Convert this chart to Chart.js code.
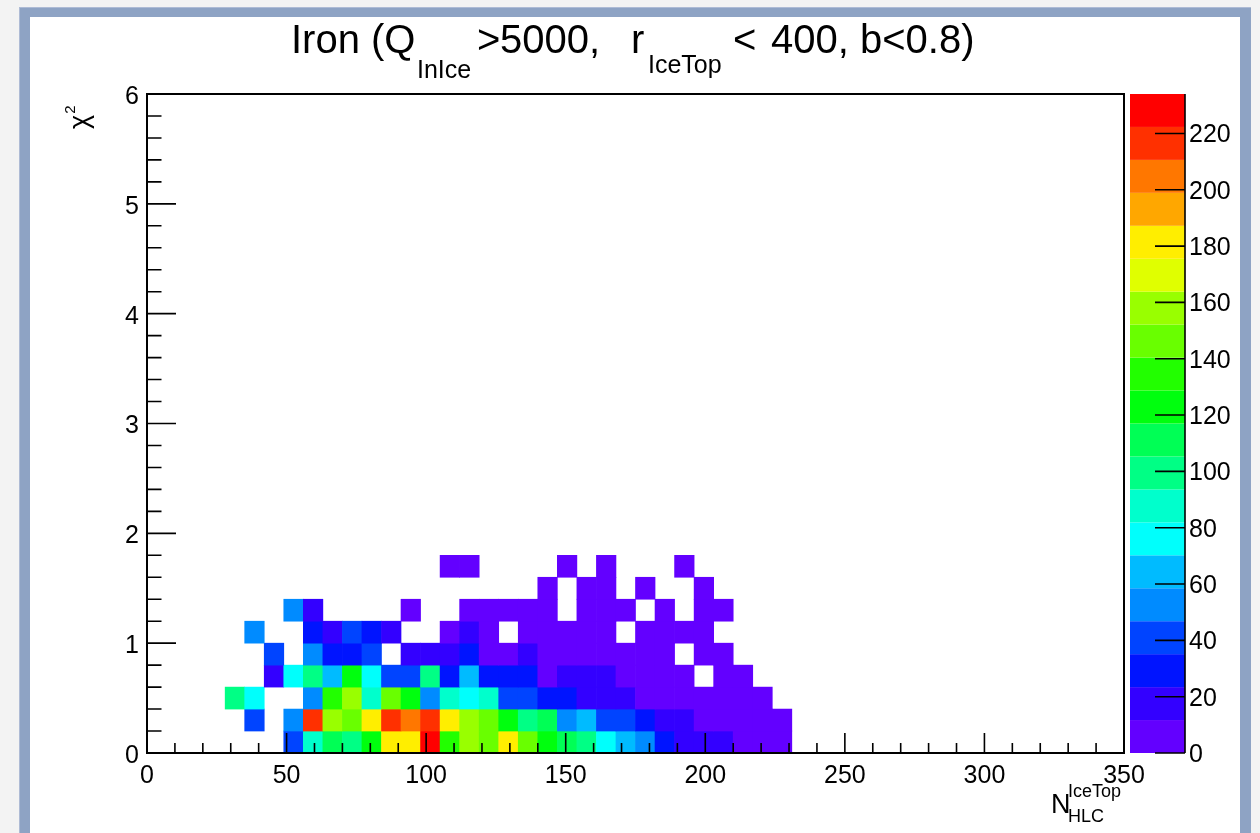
<!DOCTYPE html>
<html>
<head>
<meta charset="utf-8">
<title>Iron chi2 vs NHLC</title>
<script src="https://cdn.jsdelivr.net/npm/chart.js@4.4.1/dist/chart.umd.min.js"></script>
<style>
  html, body { margin: 0; padding: 0; background: #f3f3f3; }
  #wrap { width: 1260px; height: 833px; position: relative; }
</style>
</head>
<body>
<div id="wrap"><canvas id="c" width="1260" height="833"></canvas></div>
<script>
// ---------------- data ----------------
// Histogram binning: x = N_HLC^IceTop (0..350, bins of 7), y = chi^2 (0..6, bins of 0.2)
const xRange = [0, 350];
const yRange = [0, 6];
const xBinWidth = 7;
const yBinWidth = 0.2;
const xTicks = [0, 50, 100, 150, 200, 250, 300, 350];
const yTicks = [0, 1, 2, 3, 4, 5, 6];
const zTicks = [0, 20, 40, 60, 80, 100, 120, 140, 160, 180, 200, 220];

// Bin counts per chi^2 row (row 0 = 0-0.2, row 1 = 0.2-0.4, ...), x bins 0..33 (higher bins empty)
const row0 = [0,0,0,0,0,0,0,41,88,111,99,123,181,184,234,135,158,146,182,144,124,110,98,76,64,52,29,18,17,15,9,7,5,0];
const row1 = [0,0,0,0,0,40,0,51,216,157,147,183,218,205,215,180,160,145,125,100,112,54,63,42,39,28,20,16,10,8,6,4,3,0];
const row2 = [0,0,0,0,97,77,0,0,50,133,156,87,143,122,53,89,75,86,43,40,30,27,19,17,14,9,8,7,6,5,3,2,0,0];
const row3 = [0,0,0,0,0,0,17,78,98,65,124,74,42,38,95,30,66,28,26,25,10,15,14,13,9,8,7,5,0,4,3,0,0,0];
const row4 = [0,0,0,0,0,0,44,0,55,31,29,37,0,21,19,16,24,11,10,13,9,8,8,7,6,5,4,0,3,2,0,0,0,0];
const row5 = [0,0,0,0,0,48,0,0,26,20,36,25,14,0,0,8,13,7,0,6,5,6,4,5,0,4,3,3,2,0,0,0,0,0];
const row6 = [0,0,0,0,0,0,0,50,15,0,0,0,0,4,0,0,3,4,3,2,3,0,3,4,2,0,2,0,2,1,0,0,0,0];
const row7 = [0,0,0,0,0,0,0,0,0,0,0,0,0,0,0,0,0,0,0,0,1,0,2,1,0,1,0,0,1,0,0,0,0,0];
const row8 = [0,0,0,0,0,0,0,0,0,0,0,0,0,0,0,1,1,0,0,0,0,1,0,1,0,0,0,1,0,0,0,0,0,0];
const rows = [row0, row1, row2, row3, row4, row5, row6, row7, row8];

// ROOT "pretty" rainbow palette, 20 contour levels (violet -> red)
const palette = ['#6300ff','#3300ff','#0014ff','#0044ff','#008bff','#00bbff','#00fffc','#00ffcc','#00ff85','#00ff55',
                 '#00ff0e','#22ff00','#69ff00','#99ff00','#e0ff00','#ffee00','#ffa700','#ff7700','#ff3000','#ff0000'];
const nContours = palette.length;

// --------------- build cells ---------------
const zMax = Math.max(...rows.flat());
function colorFor(v) {
  let k = Math.floor(v / zMax * nContours);
  if (k >= nContours) k = nContours - 1;
  if (k < 0) k = 0;
  return palette[k];
}
const cells = [];
rows.forEach((r, j) => {
  r.forEach((v, i) => {
    if (v > 0) {
      cells.push({ x: xRange[0] + (i + 0.5) * xBinWidth, y: [yRange[0] + j * yBinWidth, yRange[0] + (j + 1) * yBinWidth], v: v });
    }
  });
});

Chart.defaults.font.family = "'Liberation Sans', Arial, Helvetica, sans-serif";
Chart.defaults.color = '#000';

const FONT = "'Liberation Sans', Arial, Helvetica, sans-serif";

const decor = {
  id: 'decor',
  beforeDraw(chart) {
    const c = chart.ctx;
    c.save();
    c.fillStyle = '#f3f3f3';
    c.fillRect(0, 0, chart.width, chart.height);
    c.fillStyle = '#8ea3c4';
    c.fillRect(19, 7, 1232, chart.height);
    c.fillStyle = '#aebbd5';
    c.fillRect(19, 7, 1232, 1);
    c.fillRect(19, 7, 1, chart.height);
    c.fillStyle = '#ffffff';
    c.fillRect(30, 17, 1210, chart.height);
    c.restore();
  },
  afterDatasetsDraw(chart) {
    const c = chart.ctx;
    const a = chart.chartArea;
    const xs = chart.scales.x, ys = chart.scales.y, zs = chart.scales.z;
    c.save();
    // palette box
    const cbL = a.right + 6, cbR = a.right + 61;
    for (let k = 0; k < nContours; k++) {
      const y0 = zs.getPixelForValue(k * zMax / nContours);
      const y1 = zs.getPixelForValue((k + 1) * zMax / nContours);
      c.fillStyle = palette[k];
      c.fillRect(cbL, y1, cbR - cbL, y0 - y1);
    }
    c.strokeStyle = '#000';
    c.lineWidth = 1.6;
    c.beginPath();
    c.moveTo(cbR, a.top); c.lineTo(cbR, a.bottom);
    zTicks.forEach(v => {
      const p = zs.getPixelForValue(v);
      c.moveTo(cbR - 30, p); c.lineTo(cbR, p);
    });
    c.stroke();

    // frame
    c.lineWidth = 2;
    c.strokeRect(a.left, a.top, a.right - a.left, a.bottom - a.top);

    // x ticks (major 50, minor 10)
    c.lineWidth = 1.6;
    c.beginPath();
    for (let v = xRange[0]; v <= xRange[1] + 1e-9; v += 10) {
      const p = xs.getPixelForValue(v);
      const len = (Math.round(v) % 50 === 0) ? 20 : 10;
      c.moveTo(p, a.bottom); c.lineTo(p, a.bottom - len);
    }
    // y ticks (major 1, minor 0.2)
    for (let n = 0; n <= 30; n++) {
      const v = n * 0.2;
      const p = ys.getPixelForValue(v);
      const len = (n % 5 === 0) ? 29 : 14.5;
      c.moveTo(a.left, p); c.lineTo(a.left + len, p);
    }
    c.stroke();

    // title
    c.fillStyle = '#000';
    c.textBaseline = 'alphabetic';
    c.textAlign = 'left';
    const parts = [
      { t: 'Iron (Q', s: 40, x: 291, y: 53 },
      { t: 'InIce', s: 25, x: 417, y: 78 },
      { t: '>', s: 40, x: 477, y: 53 },
      { t: '5000,', s: 40, x: 500, y: 53 },
      { t: 'r', s: 40, x: 631, y: 53 },
      { t: 'IceTop', s: 25, x: 648, y: 73 },
      { t: '<', s: 40, x: 733, y: 53 },
      { t: '400,', s: 40, x: 771, y: 53 },
      { t: 'b<0.8)', s: 40, x: 860, y: 53 }
    ];
    parts.forEach(p => { c.font = p.s + 'px ' + FONT; c.fillText(p.t, p.x, p.y); });

    // x axis title N_HLC^IceTop
    c.font = '27px ' + FONT;
    c.fillText('N', 1051, 813);
    c.font = '18px ' + FONT;
    c.fillText('IceTop', 1068, 797);
    c.fillText('HLC', 1068, 822);

    // y axis title chi^2 (rotated)
    c.save();
    c.translate(88, 129);
    c.rotate(-Math.PI / 2);
    c.font = '27px ' + FONT;
    c.fillText('\u03C7', 0, 0);
    const w = c.measureText('\u03C7').width;
    c.font = '15px ' + FONT;
    c.fillText('2', w + 1, -13);
    c.restore();

    c.restore();
  }
};

new Chart(document.getElementById('c'), {
  type: 'bar',
  data: {
    datasets: [{
      data: cells,
      backgroundColor: ctx => colorFor(ctx.raw ? ctx.raw.v : 0),
      borderWidth: 0,
      barPercentage: 1,
      categoryPercentage: 1,
      grouped: false
    }]
  },
  options: {
    responsive: false,
    animation: false,
    events: [],
    layout: { padding: { top: 94, left: 0, right: 0, bottom: 0 } },
    plugins: { legend: { display: false }, tooltip: { enabled: false }, title: { display: false } },
    scales: {
      x: {
        type: 'linear', axis: 'x', position: 'bottom', min: xRange[0], max: xRange[1], offset: false,
        grid: { display: false, drawTicks: false, offset: false }, border: { display: false },
        afterBuildTicks: s => { s.ticks = xTicks.map(v => ({ value: v })); },
        ticks: { autoSkip: false, maxRotation: 0, padding: 8, font: { size: 25 }, color: '#000' },
        afterFit: s => { s.height = 76; }
      },
      y: {
        type: 'linear', axis: 'y', position: 'left', min: yRange[0], max: yRange[1],
        grid: { display: false, drawTicks: false }, border: { display: false },
        afterBuildTicks: s => { s.ticks = yTicks.map(v => ({ value: v })); },
        ticks: { autoSkip: false, padding: 8, labelOffset: 3, font: { size: 25 }, color: '#000' },
        afterFit: s => { s.width = 147; }
      },
      z: {
        type: 'linear', axis: 'y', position: 'right', min: 0, max: zMax,
        grid: { display: false, drawTicks: false }, border: { display: false },
        afterBuildTicks: s => { s.ticks = zTicks.map(v => ({ value: v })); },
        ticks: { autoSkip: false, padding: 65, labelOffset: 2, font: { size: 25 }, color: '#000' },
        afterFit: s => { s.width = 136; }
      }
    }
  },
  plugins: [decor]
});
</script>
</body>
</html>
